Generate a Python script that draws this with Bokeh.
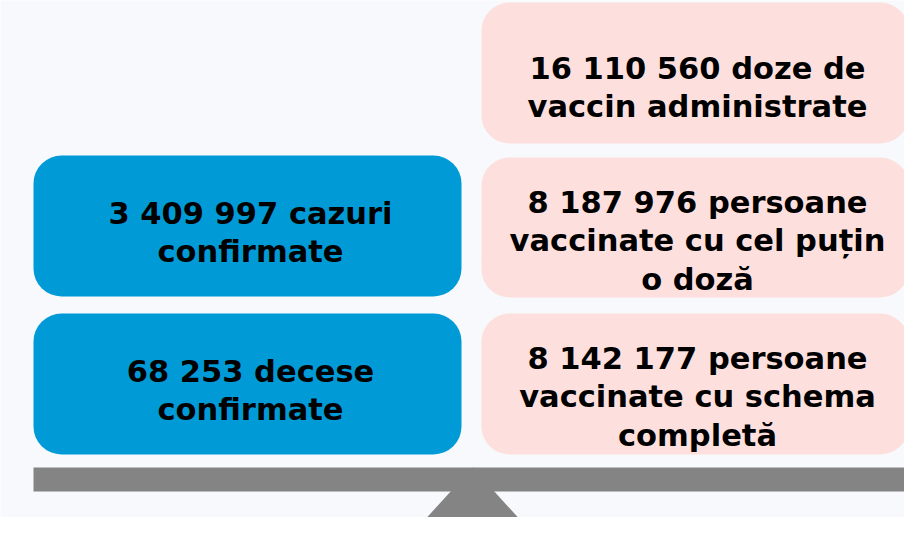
from bokeh.plotting import figure
from bokeh.models import Range1d, ColumnDataSource
from bokeh.core.properties import value
from bokeh.embed import file_html
from bokeh.resources import INLINE

# ---- data (texts of the infographic) ----
left_lines = [
    ["3 409 997 cazuri", "confirmate"],
    ["68 253 decese", "confirmate"],
]
right_lines = [
    ["16 110 560 doze de", "vaccin administrate"],
    ["8 187 976 persoane", "vaccinate cu cel puțin", "o doză"],
    ["8 142 177 persoane", "vaccinate cu schema", "completă"],
]

# ---- layout (screen pixel coordinates) ----
LEFT_X = (33, 461)
RIGHT_X = (481, 908)
left_boxes = [(155, 296), (313, 454)]
right_boxes = [(2, 143), (157, 297), (313, 454)]
left_first_baseline = [213, 371]
right_first_baseline = [68, 202, 358]
LINE_GAP = 38.3
LEFT_TEXT_CX = 250
RIGHT_TEXT_CX = 697

BG = "#f7f9fc"
BLUE = "#009bd7"
PINK = "#fde0dd"
GRAY = "#848484"

p = figure(width=904, height=517, x_range=Range1d(0, 904), y_range=Range1d(517, 0),
           output_backend="svg", toolbar_location=None, min_border=0)
p.axis.visible = False
p.grid.visible = False
p.outline_line_color = None
p.background_fill_color = BG
p.border_fill_color = BG

# balance: support triangle and beam
p.patch(x=[472, 410, 534], y=[467, 535, 535], fill_color=GRAY, line_color=None)
p.quad(left=[33], right=[908], top=[467], bottom=[491], fill_color=GRAY, line_color=None)

# boxes
p.quad(left=[LEFT_X[0]] * len(left_boxes), right=[LEFT_X[1]] * len(left_boxes),
       top=[b[0] for b in left_boxes], bottom=[b[1] for b in left_boxes],
       fill_color=BLUE, line_color=None, border_radius=28)
p.quad(left=[RIGHT_X[0]] * len(right_boxes), right=[RIGHT_X[1]] * len(right_boxes),
       top=[b[0] for b in right_boxes], bottom=[b[1] for b in right_boxes],
       fill_color=PINK, line_color=None, border_radius=28)

xs, ys, ts = [], [], []
for lines, y0 in zip(left_lines, left_first_baseline):
    for i, t in enumerate(lines):
        xs.append(LEFT_TEXT_CX); ys.append(y0 + i * LINE_GAP); ts.append(t)
for lines, y0 in zip(right_lines, right_first_baseline):
    for i, t in enumerate(lines):
        xs.append(RIGHT_TEXT_CX); ys.append(y0 + i * LINE_GAP); ts.append(t)

src = ColumnDataSource(dict(x=xs, y=ys, text=ts))
p.text(x="x", y="y", text="text", source=src, text_font=value("DejaVu Sans"),
       text_font_style="bold", text_font_size="30.5px", text_color="#000000",
       text_align="center", text_baseline="alphabetic")

open("out.html", "w").write(file_html(p, INLINE))
